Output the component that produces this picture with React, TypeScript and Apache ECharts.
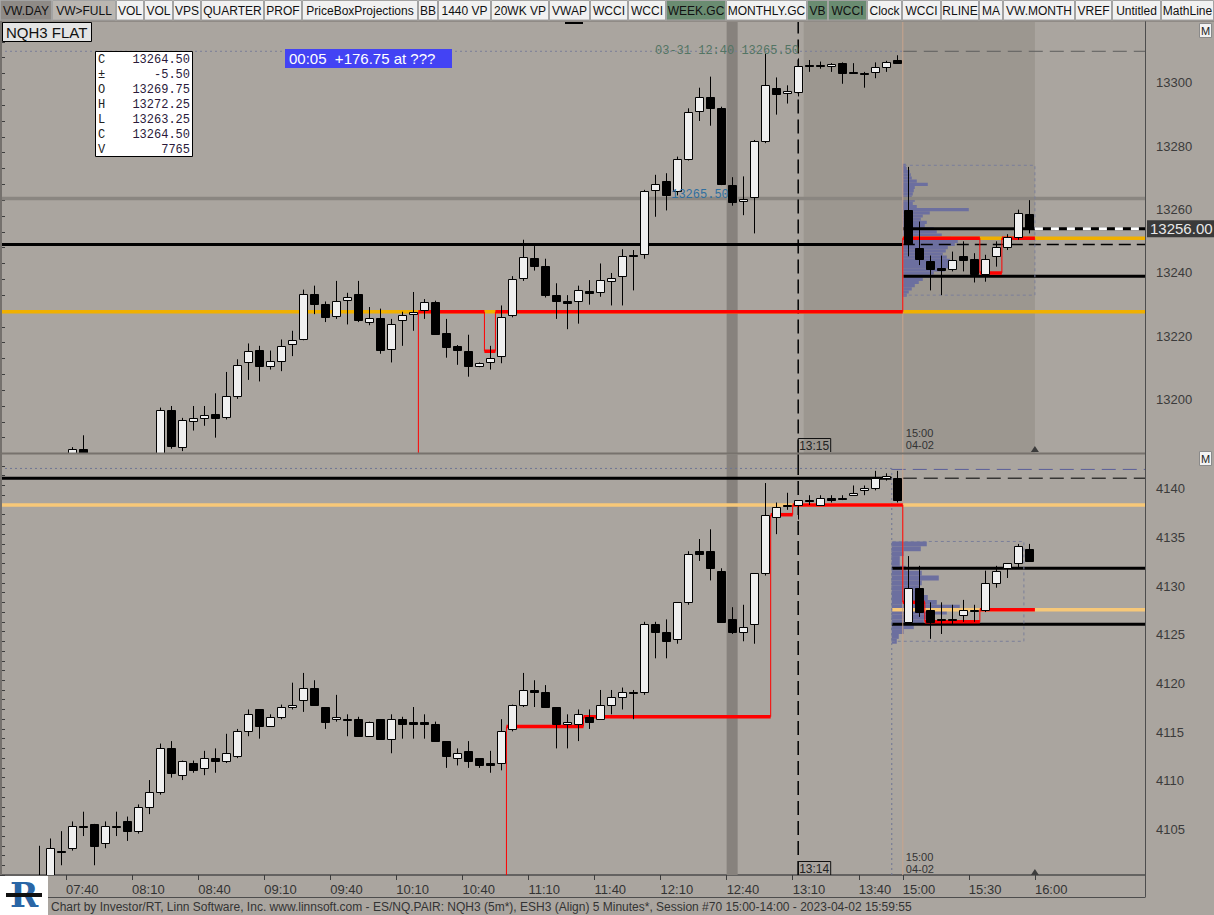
import React, { useEffect, useRef } from "react";
import * as echarts from "echarts";

// ---------------- categories (5-minute bars, two sessions) ----------------
function buildTimes(start: string, count: number): string[] {
  const [h, m] = start.split(":").map(Number);
  const out: string[] = [];
  for (let i = 0; i < count; i++) {
    const t = h * 60 + m + i * 5;
    out.push(String(Math.floor(t / 60)).padStart(2, "0") + ":" + String(t % 60).padStart(2, "0"));
  }
  return out;
}
const categories = [...buildTimes("07:10", 82), ...buildTimes("15:00", 22)];
const xTickLabels = ["07:40", "08:10", "08:40", "09:10", "09:40", "10:10", "10:40", "11:10", "11:40", "12:10", "12:40", "13:10", "13:40", "15:00", "15:30", "16:00"];

// ---------------- NQH3 5m bars  [open, high, low, close] ----------------
const nqBars: (number[] | null)[] = [
  null, null, null, null, null, null,
  [13183, 13187, 13180, 13186.5], [13186.5, 13190.75, 13181, 13184],
  null, null, null, null, null, null,
  [13180, 13199.5, 13178, 13198.75], [13198.75, 13200, 13186.5, 13187.25], [13187, 13196.25, 13185.75, 13195.5],
  [13195.25, 13200, 13192.25, 13196.25], [13196.25, 13200, 13193.75, 13197.25], [13197.5, 13204, 13190, 13196.25],
  [13196.5, 13210.75, 13195.75, 13203], [13203, 13214.75, 13202.25, 13213], [13213.75, 13219.75, 13208.25, 13217.5],
  [13217.75, 13219, 13207.75, 13212.75], [13212.75, 13217.5, 13211.5, 13214.25], [13214.25, 13221, 13211, 13219],
  [13219.5, 13223.75, 13215.75, 13220.75], [13221, 13236.75, 13220.75, 13235.5], [13235.5, 13238, 13229, 13232.25],
  [13232.25, 13233, 13226.5, 13228.25], [13228.5, 13239.5, 13227.5, 13233], [13233.5, 13235.75, 13225.75, 13234.5],
  [13235.5, 13239.5, 13226.5, 13227], [13226.5, 13231.25, 13225.5, 13227.75], [13227.75, 13230.75, 13216.5, 13217.75],
  [13218, 13227.5, 13213.75, 13226], [13227, 13229.75, 13219, 13228.75], [13229, 13236, 13223.75, 13229.75],
  [13230.25, 13233.75, 13227.5, 13232.75], [13232.75, 13233.25, 13222.5, 13222.75], [13223, 13227.5, 13215.25, 13218.5],
  [13219, 13219.25, 13213, 13217.75], [13217.25, 13222.5, 13209.25, 13212.75], [13212.5, 13213.75, 13212.25, 13213.5],
  [13213.75, 13219, 13211.5, 13215.25], [13215.75, 13231.75, 13213.5, 13228.25], [13228.75, 13241, 13228, 13240.25],
  [13240.5, 13252.5, 13239.5, 13247], [13246.75, 13250.5, 13242.75, 13244.25], [13244.25, 13246.5, 13234.25, 13235],
  [13235, 13238.75, 13227.5, 13233.25], [13233.25, 13235, 13224.25, 13232.5], [13233, 13238, 13226, 13236.5],
  [13236.25, 13239.75, 13232, 13235.75], [13236, 13245, 13234.5, 13239.75], [13239.5, 13242, 13231.75, 13240.5],
  [13241, 13249.5, 13231.75, 13247.5], [13247.75, 13249.25, 13236.5, 13247.5], [13248, 13268.25, 13246.5, 13267.75],
  [13268.25, 13273, 13259.75, 13270.25], [13271, 13273.5, 13261.75, 13266.5], [13267.75, 13278.75, 13266.5, 13278],
  [13278, 13294, 13277.5, 13292.75], [13293, 13300.5, 13290, 13297.5], [13297.5, 13304, 13288.5, 13294.25],
  [13294, 13294.5, 13269.75, 13270], [13269.75, 13272.25, 13263.25, 13264.5], [13264.75, 13272.5, 13260.25, 13265.5],
  [13266, 13284, 13254.5, 13283.75], [13283.75, 13311.25, 13283, 13301.5], [13300.5, 13303.75, 13292, 13298.5],
  [13298.75, 13301.25, 13295.5, 13299.5], [13299.25, 13309.75, 13297.75, 13307.5], [13307.75, 13309.25, 13305.5, 13307.75],
  [13307.75, 13308.75, 13306.5, 13307.5], [13307.25, 13308.25, 13305.5, 13308], [13308.25, 13308.5, 13301.75, 13305.25],
  [13305.5, 13308.25, 13305, 13305], [13305.25, 13305.5, 13300.5, 13305], [13305.5, 13308.5, 13303.5, 13307],
  [13307, 13309, 13305.5, 13308.75], [13309.25, 13310.75, 13308, 13308.25],
  [13262, 13275.5, 13247.25, 13251.25], [13250, 13258.25, 13244.5, 13246.5], [13245.75, 13247.5, 13236.5, 13243.25],
  [13243.5, 13247.5, 13235, 13243], [13243.25, 13248.75, 13242.5, 13246.25], [13247.25, 13252, 13242.5, 13246],
  [13246.5, 13248.25, 13239, 13241.75], [13241.75, 13247.75, 13239.25, 13246.5], [13247.25, 13252, 13244, 13250.25],
  [13250.25, 13254.25, 13249.25, 13253.5], [13253.25, 13262, 13252.5, 13261], [13260.5, 13265, 13254.5, 13256],
];

// ---------------- ESH3 5m bars  [open, high, low, close] ----------------
const esBars: (number[] | null)[] = [
  null, null, null,
  [4100.5, 4104, 4099, 4100], [4100.75, 4104.75, 4100, 4103.75], [4103.5, 4105.5, 4102, 4103.5],
  [4103.75, 4106.5, 4103.5, 4106], [4106, 4107.5, 4105, 4106], [4106.25, 4106.25, 4102, 4104],
  [4104.25, 4106.5, 4103.75, 4106], [4106, 4107.5, 4105, 4106], [4106.5, 4107, 4104.5, 4105.5],
  [4105.5, 4108.25, 4105.25, 4108], [4108, 4110.75, 4107.25, 4109.5], [4109.5, 4114.5, 4109.25, 4114],
  [4114, 4114.75, 4111, 4111.5], [4111.25, 4112.75, 4110.75, 4112.75], [4112.5, 4112.75, 4111.5, 4111.75],
  [4112, 4113.75, 4111.25, 4113], [4113, 4114, 4111.5, 4112.75], [4112.75, 4115.5, 4112.5, 4113.5],
  [4113.25, 4116, 4113, 4115.75], [4115.75, 4118, 4115.25, 4117.5], [4118, 4118, 4115, 4116.25],
  [4116.25, 4117.5, 4116.25, 4117.25], [4117.25, 4118.5, 4117, 4118.25], [4118.25, 4120.75, 4118, 4118.5],
  [4119, 4121.75, 4117.75, 4120.25], [4120.25, 4121, 4118.5, 4118.5], [4118.25, 4118.25, 4116, 4116.75],
  [4117, 4119.5, 4116.75, 4117.25], [4117, 4117.5, 4115.25, 4117], [4117, 4117.25, 4115.25, 4115.25],
  [4115.25, 4116.75, 4115.25, 4116.75], [4117, 4117, 4115, 4115], [4115, 4117.5, 4113.5, 4117],
  [4117, 4117.25, 4115, 4116.5], [4116.75, 4118.25, 4115, 4116.5], [4116.75, 4117.5, 4115, 4116.5],
  [4116.5, 4116.75, 4114.75, 4114.75], [4114.75, 4114.75, 4112, 4113.25], [4113, 4114, 4112.25, 4113.5],
  [4113.75, 4114.75, 4112, 4112.75], [4113, 4113, 4112, 4112.25], [4112.5, 4113.75, 4111.5, 4112.25],
  [4112.5, 4117, 4111.75, 4115.75], [4116, 4118.5, 4115.75, 4118.5], [4118.5, 4121.75, 4118.25, 4120],
  [4120, 4121, 4118.25, 4119.75], [4119.75, 4120.5, 4118.25, 4118.25], [4118.25, 4118.25, 4114, 4116.5],
  [4116.5, 4117.5, 4114, 4116.75], [4116.5, 4118, 4114.75, 4117.5], [4117.25, 4118, 4116, 4116.75],
  [4117, 4120, 4117, 4118.5], [4118.5, 4120, 4117.5, 4119.25], [4119.25, 4120.25, 4118, 4119.75],
  [4119.75, 4120, 4117, 4119.75], [4119.75, 4127, 4119.5, 4126.75], [4126.75, 4127, 4123.25, 4126],
  [4126, 4127.25, 4123.25, 4125], [4125.25, 4129, 4124.75, 4129], [4129, 4134.25, 4128.75, 4134],
  [4134.25, 4135.5, 4133.25, 4134], [4134.25, 4136.5, 4131.25, 4132.5], [4132.25, 4132.5, 4127, 4127],
  [4127.25, 4128.5, 4125.75, 4126], [4126, 4128.75, 4125, 4126.5], [4126.75, 4132, 4124.75, 4132],
  [4132, 4141.25, 4131.75, 4138], [4137.75, 4139.25, 4136, 4138.75], [4139, 4140.25, 4138.5, 4139],
  [4139, 4139.5, 4137.5, 4139.5], [4139.5, 4140, 4139, 4139.5], [4139, 4140, 4139, 4139.75],
  [4139.75, 4140, 4139.25, 4139.5], [4139.75, 4140, 4139.5, 4139.75], [4140, 4141, 4140, 4140.25],
  [4140.5, 4141, 4140, 4140.75], [4140.75, 4142.5, 4140.5, 4141.75], [4141.75, 4142.25, 4141.5, 4142],
  [4141.75, 4142.5, 4139.25, 4139.5],
  [4127, 4133.75, 4127, 4130.5], [4130.5, 4132.75, 4127.5, 4128], [4128.25, 4129, 4125.25, 4127],
  [4127.25, 4129, 4125.75, 4127.25], [4127.25, 4128.75, 4126.75, 4127.25], [4127.75, 4129.25, 4127, 4128.25],
  [4128.25, 4128.75, 4127, 4128.25], [4128.25, 4132.25, 4128, 4131], [4131, 4132.75, 4130.5, 4132.25],
  [4132.5, 4133, 4131.5, 4133], [4133, 4135, 4132.5, 4134.75], [4134.5, 4135, 4133.25, 4133.25],
];

// ---------------- volume profiles of the 15:00 session ----------------
const nqProfilePrices = [13276, 13275, 13274, 13273, 13272, 13271, 13270, 13269, 13268, 13267, 13266, 13265, 13264, 13263, 13262, 13261, 13260, 13259, 13258, 13257, 13256, 13255, 13254, 13253, 13252, 13251, 13250, 13249, 13248, 13247, 13246, 13245, 13244, 13243, 13242, 13241, 13240, 13239, 13238, 13237, 13236, 13235];
const nqProfileVolume = [3, 4, 7, 8, 9, 14, 25, 12, 11, 10, 9, 12, 10, 14, 66, 27, 20, 18, 24, 22, 31, 34, 39, 48, 55, 52, 45, 43, 40, 44, 47, 50, 46, 42, 31, 28, 20, 16, 12, 9, 6, 4];
const esProfilePrices = [4135, 4134.5, 4134, 4133.5, 4133, 4132.5, 4132, 4131.5, 4131, 4130.5, 4130, 4129.5, 4129, 4128.5, 4128, 4127.5, 4127, 4126.5, 4126, 4125.5, 4125];
const esProfileVolume = [35, 29, 12, 8, 8, 14, 30, 47, 30, 28, 31, 36, 45, 68, 55, 40, 32, 22, 12, 7, 5];

// ---------------- reference levels ----------------
const nqPriorHigh = 13312;
const nqGrayLevel = 13265.5;
const nqBlackLevel = 13251;
const nqYellowLevel = 13229.75;
const nqYellowLevel2 = 13253;
const nqRangeHigh = 13256;
const nqRangeLow = 13241;
const nqProfileBox = [82, 94, 13235, 13276];
const nqRedPath = [[38, 13185], [38, 13229.75], [44, 13229.75], [44, 13217.25], [45, 13217.25], [45, 13229.75], [82, 13229.75], [82, 13253], [89, 13253], [89, 13242], [91, 13242], [91, 13253], [94, 13253]];

const esPriorHigh = 4142.75;
const esBlackLevel = 4141.75;
const esOrangeLevel = 4139;
const esOrangeLevel2 = 4128.25;
const esRangeHigh = 4132.5;
const esRangeLow = 4126.75;
const esProfileBox = [81, 93, 4125, 4135.25];
const esRedPath = [[46, 4101], [46, 4116.25], [53, 4116.25], [53, 4117.25], [70, 4117.25], [70, 4138], [72, 4138], [72, 4139], [82, 4139], [82, 4129], [84, 4129], [84, 4127], [89, 4127], [89, 4128.25], [94, 4128.25]];

const markerBar = 72; // dashed time marker (center of bar)
const cursorBar = 66; // highlighted bar
const shadeFrom = 73;
const shadeTo = 94;
const hoverVolume = 7765;

const toolbarButtons = ["VW.DAY", "VW>FULL", "VOL", "VOL", "VPS", "QUARTER", "PROF", "PriceBoxProjections", "BB", "1440 VP", "20WK VP", "VWAP", "WCCI", "WCCI", "WEEK.GC", "MONTHLY.GC", "VB", "WCCI", "Clock", "WCCI", "RLINE", "MA", "VW.MONTH", "VREF", "Untitled", "MathLine"];

// ---------------- layout ----------------
const W = 1214;
const H = 915;
const GRID_L = 0;
const GRID_W = 1145;
const NB = 104;
const BAND = GRID_W / NB;
const TOP_T = 22;
const TOP_H = 431.5;
const NQ_MIN = 13185;
const NQ_MAX = 13321.25;
const BOT_T = 466;
const BOT_H = 409;
const ES_MIN = 4101;
const ES_MAX = 4143;
const FONT = '"Liberation Sans", Arial, sans-serif';
const MONO = '"Liberation Mono", "DejaVu Sans Mono", monospace';
const BG = "#aaa59f";

const toolbarEdges = [0, 52, 116, 144, 173, 201, 264, 302, 418, 438, 491, 549, 590, 628, 666, 726, 807, 828, 867, 902, 941, 979, 1003, 1075, 1112, 1161, 1214];

const xPix = (k: number) => GRID_L + k * BAND;
const yTop = (p: number) => TOP_T + ((NQ_MAX - p) / (NQ_MAX - NQ_MIN)) * TOP_H;

function candleSeries(xi: number, yi: number, bars: (number[] | null)[]) {
  const data: number[][] = [];
  bars.forEach((b, i) => {
    if (b) data.push([i + 0.5, b[0], b[1], b[2], b[3]]);
  });
  return {
    type: "custom", xAxisIndex: xi, yAxisIndex: yi, silent: true, z: 6, clip: true,
    data,
    encode: { x: 0, y: [1, 2, 3, 4] },
    renderItem: (params: any, api: any) => {
      const x = api.value(0), o = api.value(1), h = api.value(2), l = api.value(3), c = api.value(4);
      const cs = params.coordSys;
      const top = cs.y, bot = cs.y + cs.height;
      const clamp = (v: number) => Math.max(top, Math.min(bot, v));
      const pO = api.coord([x, o]);
      const yC = api.coord([x, c])[1];
      const yH = api.coord([x, h])[1];
      const yL = api.coord([x, l])[1];
      const cx = Math.round(pO[0]);
      const children: any[] = [];
      if (yL > top && yH < bot) {
        children.push({ type: "line", shape: { x1: cx + 0.5, y1: clamp(yH), x2: cx + 0.5, y2: clamp(yL) }, style: { stroke: "#000", lineWidth: 1 } });
      }
      const b1 = Math.min(pO[1], yC), b2 = Math.max(pO[1], yC);
      if (b2 >= top && b1 <= bot) {
        const t = clamp(b1), bb = clamp(b2);
        children.push({
          type: "rect",
          shape: { x: cx - 4 + 0.5, y: Math.round(t) + 0.5, width: 8, height: Math.max(1, Math.round(bb) - Math.round(t)) },
          style: { fill: c > o ? "#f0f0f0" : "#000", stroke: "#000", lineWidth: 1 },
        });
      }
      return { type: "group", children };
    },
  };
}

function line(xi: number, yi: number, pts: number[][], color: string, width: number, type: any = "solid", z = 3) {
  return {
    type: "line", xAxisIndex: xi, yAxisIndex: yi, data: pts, symbol: "none", silent: true, z,
    clip: true, lineStyle: { color, width, type }, emphasis: { disabled: true },
  };
}

function stepPath(xi: number, yi: number, path: number[][], color: string) {
  const out: any[] = [];
  for (let i = 0; i < path.length - 1; i++) {
    const a = path[i], b = path[i + 1];
    out.push(line(xi, yi, [a, b], color, a[0] === b[0] ? 1 : 3.5, "solid", 4));
  }
  return out;
}

function profileSeries(xi: number, yi: number, prices: number[], vols: number[], x0: number, rowH: number) {
  return {
    type: "custom", xAxisIndex: xi, yAxisIndex: yi, silent: true, z: 2, clip: true,
    data: prices.map((p, i) => [p, vols[i]]),
    encode: { x: 1, y: 0 },
    renderItem: (params: any, api: any) => {
      const price = api.value(0);
      const vol = api.value(1);
      const a = api.coord([x0, price + rowH / 2]);
      const b = api.coord([x0 + vol / BAND, price - rowH / 2]);
      return { type: "rect", shape: { x: a[0], y: a[1], width: b[0] - a[0], height: b[1] - a[1] }, style: { fill: "#6c6f9f" } };
    },
  };
}

function boxPath(box: number[]) {
  const [x1, x2, y1, y2] = box;
  return [[x1, y1], [x2, y1], [x2, y2], [x1, y2], [x1, y1]];
}

function buildOption() {
  const tickIdx = xTickLabels.map((l) => categories.indexOf(l));
  const series: any[] = [];

  // background shading / cursor
  series.push({
    type: "line", xAxisIndex: 1, yAxisIndex: 0, data: [[0, NQ_MIN]], symbol: "none", lineStyle: { width: 0 }, silent: true, z: 0,
    markArea: {
      silent: true,
      data: [
        [{ xAxis: shadeFrom, itemStyle: { color: "#9c9790" } }, { xAxis: shadeTo }],
        [{ xAxis: cursorBar, itemStyle: { color: "#87827d" } }, { xAxis: cursorBar + 1 }],
      ],
    },
  });
  series.push({
    type: "line", xAxisIndex: 3, yAxisIndex: 1, data: [[0, ES_MIN]], symbol: "none", lineStyle: { width: 0 }, silent: true, z: 0,
    markArea: { silent: true, data: [[{ xAxis: cursorBar, itemStyle: { color: "#87827d" } }, { xAxis: cursorBar + 1 }]] },
  });

  // profiles
  series.push(profileSeries(1, 0, nqProfilePrices, nqProfileVolume, nqProfileBox[0], 1));
  series.push(profileSeries(3, 1, esProfilePrices, esProfileVolume, esProfileBox[0], 0.5));

  // ---- top pane lines
  series.push(line(1, 0, [[0, nqPriorHigh], [82, nqPriorHigh]], "#7a7e98", 1, [2, 3]));
  series.push(line(1, 0, [[82, nqPriorHigh], [NB, nqPriorHigh]], "#5e5e5e", 1, [14, 7]));
  series.push(line(1, 0, [[0, nqGrayLevel], [NB, nqGrayLevel]], "#8a8681", 3.5, "solid", 2));
  series.push(line(1, 0, [[0, nqBlackLevel], [82, nqBlackLevel]], "#000", 3));
  series.push(line(1, 0, [[82, nqBlackLevel], [NB, nqBlackLevel]], "#000", 1.5, [12, 6]));
  series.push(line(1, 0, [[0, nqYellowLevel], [NB, nqYellowLevel]], "#f0b000", 3.5));
  series.push(line(1, 0, [[82, nqYellowLevel2], [NB, nqYellowLevel2]], "#f0b000", 3.5));
  series.push(line(1, 0, [[82, nqRangeLow], [NB, nqRangeLow]], "#000", 3));
  series.push(line(1, 0, [[82, nqRangeHigh], [94, nqRangeHigh]], "#000", 3));
  series.push(line(1, 0, [[94, nqRangeHigh], [NB, nqRangeHigh]], "#000", 3));
  series.push(line(1, 0, [[94, nqRangeHigh], [NB, nqRangeHigh]], "#ffffff", 3, [8, 8], 4));
  series.push(line(1, 0, boxPath(nqProfileBox), "#7b7f9a", 1, [3, 3]));
  series.push(...stepPath(1, 0, nqRedPath, "#ff0000"));
  series.push(line(1, 0, [[82, NQ_MIN], [82, NQ_MAX]], "#c8a38c", 1));
  series.push(line(1, 0, [[markerBar + 0.5, NQ_MIN], [markerBar + 0.5, NQ_MAX]], "#000", 1.5, [14, 6]));

  // ---- bottom pane lines
  series.push(line(3, 1, [[0, esPriorHigh], [81, esPriorHigh]], "#6e7595", 1, [2, 3]));
  series.push(line(3, 1, [[81, esPriorHigh - 0.1], [NB, esPriorHigh - 0.1]], "#5b5e9a", 1, [14, 7]));
  series.push(line(3, 1, [[0, esBlackLevel], [81, esBlackLevel]], "#000", 3));
  series.push(line(3, 1, [[82, esBlackLevel], [NB, esBlackLevel]], "#000", 1, [14, 7]));
  series.push(line(3, 1, [[0, esOrangeLevel], [NB, esOrangeLevel]], "#f7c878", 3.5));
  series.push(line(3, 1, [[81, esOrangeLevel2], [NB, esOrangeLevel2]], "#f7c878", 3.5));
  series.push(line(3, 1, [[81, esRangeHigh], [NB, esRangeHigh]], "#000", 3));
  series.push(line(3, 1, [[81, esRangeLow], [NB, esRangeLow]], "#000", 3));
  series.push(line(3, 1, boxPath(esProfileBox), "#7b7f9a", 1, [3, 3]));
  series.push(line(3, 1, [[81, ES_MIN], [81, esPriorHigh]], "#6e7595", 1, [2, 3]));
  series.push(...stepPath(3, 1, esRedPath, "#ff0000"));
  series.push(line(3, 1, [[82, ES_MIN], [82, ES_MAX]], "#c8a38c", 1));
  series.push(line(3, 1, [[markerBar + 0.5, ES_MIN], [markerBar + 0.5, ES_MAX]], "#000", 1.5, [14, 6]));

  // ---- candles
  series.push(candleSeries(1, 0, nqBars));
  series.push(candleSeries(3, 1, esBars));

  // ---------------- graphics ----------------
  const g: any[] = [];
  const txt = (x: number, y: number, text: string, font: string, fill = "#222", align = "left", z = 60, extra: any = {}) =>
    g.push({ type: "text", x, y, z, silent: true, style: { text, font, fill, align, verticalAlign: "middle", ...extra } });
  const rect = (x: number, y: number, w: number, h: number, fill: string, stroke?: string, z = 55, lw = 1) =>
    g.push({ type: "rect", z, silent: true, shape: { x, y, width: w, height: h }, style: { fill, stroke: stroke || null, lineWidth: lw } });

  // toolbar
  rect(0, 0, W, 21, "#d6d3ce", undefined, 50);
  toolbarButtons.forEach((label, i) => {
    const x0 = toolbarEdges[i], x1 = toolbarEdges[i + 1];
    let bg = "#f1f1f1";
    if (i === 0) bg = "#8e8a86";
    if (i === 1) bg = "#bab6b1";
    if (i === 14 || i === 16 || i === 17) bg = "#6a8c71";
    rect(x0 + 0.5, 0.5, x1 - x0 - 1, 19.5, bg, "#a3a3a3", 51);
    txt((x0 + x1) / 2, 10.5, label, `12px ${FONT}`, "#111", "center", 52);
  });
  rect(0, 20.5, W, 1, "#77736f", undefined, 52);
  rect(565, 22, 18, 2, "#000", undefined, 52);

  // left border, pane separator, gap continuation of vertical marks, right axis line, x-axis box
  rect(0, 21, 2, 854, "#75716d", undefined, 40);
  rect(0, 452.5, GRID_W + 1, 2, "#77726d", undefined, 40);
  rect(xPix(cursorBar), 454.5, BAND, 11.5, "#87827d", undefined, 5);
  const mx = xPix(markerBar + 0.5);
  g.push({ type: "line", z: 41, silent: true, shape: { x1: mx, y1: 454.5, x2: mx, y2: 466 }, style: { stroke: "#000", lineWidth: 1.5, lineDash: [14, 6] } });
  g.push({ type: "line", z: 41, silent: true, shape: { x1: xPix(82), y1: 454.5, x2: xPix(82), y2: 466 }, style: { stroke: "#c8a38c", lineWidth: 1 } });
  g.push({ type: "line", z: 40, silent: true, shape: { x1: GRID_W + 0.5, y1: 21, x2: GRID_W + 0.5, y2: 897 }, style: { stroke: "#4d4d4d", lineWidth: 1 } });
  g.push({ type: "line", z: 40, silent: true, shape: { x1: 0, y1: 897.5, x2: GRID_W + 0.5, y2: 897.5 }, style: { stroke: "#4d4d4d", lineWidth: 1 } });

  // symbol box
  rect(2.5, 22.5, 89, 19, "#e4e4e4", "#000", 60);
  txt(6, 32.5, "NQH3 FLAT", `15px ${FONT}`, "#111", "left", 61);

  // OHLC box of the highlighted bar
  const hb = nqBars[cursorBar] as number[];
  const pb = nqBars[cursorBar - 1] as number[];
  const rows = [
    ["C", hb[3].toFixed(2)], ["±", (hb[3] - pb[3]).toFixed(2)], ["O", hb[0].toFixed(2)], ["H", hb[1].toFixed(2)],
    ["L", hb[2].toFixed(2)], ["C", hb[3].toFixed(2)], ["V", String(hoverVolume)],
  ];
  rect(95.5, 51.5, 97, 105, "#ffffff", "#000", 60);
  rows.forEach((r, i) => {
    txt(98, 59.5 + i * 15, r[0], `12px ${MONO}`, "#222", "left", 61);
    txt(190, 59.5 + i * 15, r[1], `12px ${MONO}`, "#2a1a3a", "right", 61);
  });

  // blue timer box
  rect(285, 49, 167, 19, "#4343f4", undefined, 60);
  txt(289, 58.5, "00:05  +176.75 at ???", `15px ${FONT}`, "#ffffff", "left", 61);

  // pane "M" buttons
  rect(1199.5, 23.5, 12, 14, "#f2f2f2", "#8a8a8a", 60);
  txt(1205.5, 30.5, "M", `11px ${FONT}`, "#222", "center", 61);
  rect(1199.5, 451.5, 12, 14, "#f2f2f2", "#8a8a8a", 60);
  txt(1205.5, 458.5, "M", `11px ${FONT}`, "#222", "center", 61);

  // level annotations
  txt(727, yTop(nqPriorHigh), `03-31 12:40 ${nqGrayLevel.toFixed(2)}`, `12px ${MONO}`, "#527463", "center", 61);
  txt(700, yTop(nqGrayLevel) - 4, nqGrayLevel.toFixed(2), `12px ${MONO}`, "#2f6f9f", "center", 61);

  // time marker boxes
  g.push({ type: "polyline", z: 61, silent: true, shape: { points: [[mx, 452], [mx, 438.5], [mx + 32.5, 438.5], [mx + 32.5, 452]] }, style: { stroke: "#111", lineWidth: 1, fill: null } });
  txt(mx + 16, 446, "13:15", `12px ${FONT}`, "#222", "center", 61);
  g.push({ type: "polyline", z: 61, silent: true, shape: { points: [[mx, 875], [mx, 861.5], [mx + 32.5, 861.5], [mx + 32.5, 875]] }, style: { stroke: "#111", lineWidth: 1, fill: null } });
  txt(mx + 16, 869, "13:14", `12px ${FONT}`, "#222", "center", 61);

  // session start labels
  const sx = xPix(82) + 3;
  txt(sx, 432.5, "15:00", `11px ${FONT}`, "#333", "left", 61);
  txt(sx, 444.5, "04-02", `11px ${FONT}`, "#333", "left", 61);
  txt(sx, 856.5, "15:00", `11px ${FONT}`, "#333", "left", 61);
  txt(sx, 868.5, "04-02", `11px ${FONT}`, "#333", "left", 61);

  // bar-end triangles
  const tx = xPix(94);
  g.push({ type: "polygon", z: 61, silent: true, shape: { points: [[tx - 4, 452], [tx + 4, 452], [tx, 446]] }, style: { fill: "#3c3c3c" } });
  g.push({ type: "polygon", z: 61, silent: true, shape: { points: [[tx - 4, 875], [tx + 4, 875], [tx, 869]] }, style: { fill: "#3c3c3c" } });

  // last price box
  const last = (nqBars[93] as number[])[3];
  rect(1147, yTop(last) - 8.5, 67, 17, "#3a3a3a", undefined, 60);
  txt(1150, yTop(last), last.toFixed(2), `15px ${FONT}`, "#e8e8e8", "left", 61);

  // logo + footer
  rect(0, 876, 48, 39, "#ffffff", undefined, 60);
  txt(24, 895, "R", `bold 34px "DejaVu Serif", serif`, "#2a66a6", "center", 61);
  rect(6, 893, 36, 4, "#111", undefined, 62);
  txt(51, 907, "Chart by Investor/RT, Linn Software, Inc. www.linnsoft.com - ES/NQ.PAIR: NQH3 (5m*), ESH3 (Align) 5 Minutes*, Session #70 15:00-14:00 - 2023-04-02 15:59:55", `12px ${FONT}`, "#333", "left", 61);

  const yAxisCommon = {
    type: "value", position: "right", splitLine: { show: false },
    axisLine: { show: true, lineStyle: { color: "#4d4d4d" } },
    axisTick: { show: true, length: 5, lineStyle: { color: "#3d3d3d" } },
  };

  return {
    animation: false,
    backgroundColor: BG,
    grid: [
      { left: GRID_L, top: TOP_T, width: GRID_W, height: TOP_H, containLabel: false },
      { left: GRID_L, top: BOT_T, width: GRID_W, height: BOT_H, containLabel: false },
    ],
    xAxis: [
      { type: "category", gridIndex: 0, data: categories, show: false, position: "top", boundaryGap: true },
      { type: "value", gridIndex: 0, min: 0, max: NB, show: false, position: "bottom" },
      { type: "category", gridIndex: 1, data: categories, show: false, position: "top", boundaryGap: true },
      {
        type: "value", gridIndex: 1, min: 0, max: NB, position: "bottom", splitLine: { show: false },
        axisLine: { show: true, lineStyle: { color: "#4d4d4d", width: 1.5 } },
        axisTick: { show: true, customValues: tickIdx, length: 5, lineStyle: { color: "#3d3d3d" } },
        axisLabel: {
          show: true, customValues: tickIdx, align: "left", margin: 8, color: "#333", fontSize: 13, fontFamily: FONT,
          formatter: (v: number) => categories[Math.round(v)] || "",
        },
      },
    ],
    yAxis: [
      {
        ...yAxisCommon, gridIndex: 0, min: NQ_MIN, max: NQ_MAX, interval: 5,
        axisLabel: {
          margin: 11, color: "#3b3b3b", fontSize: 13, fontFamily: FONT, verticalAlign: "bottom",
          formatter: (v: number) => (v % 20 === 0 && v < NQ_MAX - 10 ? String(v) : ""),
        },
      },
      {
        ...yAxisCommon, gridIndex: 1, min: ES_MIN, max: ES_MAX, interval: 1,
        axisLabel: {
          margin: 11, color: "#3b3b3b", fontSize: 13, fontFamily: FONT, verticalAlign: "bottom",
          formatter: (v: number) => (v % 5 === 0 ? String(v) : ""),
        },
      },
    ],
    graphic: g,
    series,
  };
}

export default function App() {
  const ref = useRef<HTMLDivElement>(null);
  useEffect(() => {
    document.body.style.margin = "0";
    const chart = echarts.init(ref.current as HTMLDivElement, null, { renderer: "svg" });
    chart.setOption(buildOption() as any);
    return () => chart.dispose();
  }, []);
  return <div ref={ref} style={{ position: "absolute", left: 0, top: 0, width: W, height: H }} />;
}
